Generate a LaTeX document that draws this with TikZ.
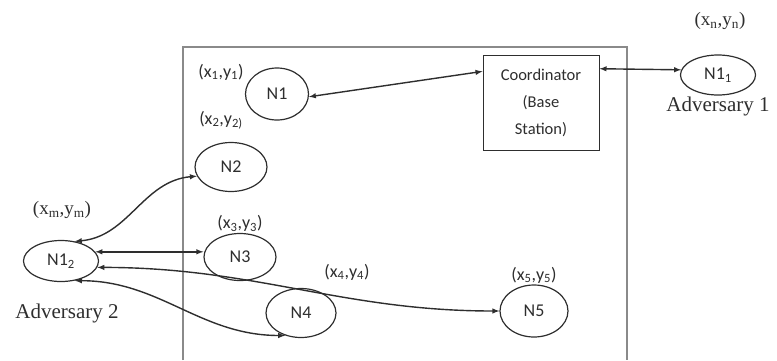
\documentclass[tikz,border=0pt]{standalone}
\usepackage{fontspec}
\setmainfont{Liberation Serif}
\newfontfamily\nodefont{Carlito}
\usepackage{xcolor}
\definecolor{ink}{HTML}{2E2E2E}
\definecolor{frameGray}{HTML}{8A8A8A}
\usetikzlibrary{%
    shapes,
    arrows,
    positioning
}

\begin{document}
\begin{tikzpicture}[x=1pt, y=-1pt, auto,
                sensor/.style={ellipse, draw=ink, line width=1.2pt, minimum width=72pt, minimum height=49pt, inner sep=0pt, text=ink, font=\nodefont\fontsize{18}{18}\selectfont},
                adversary/.style={sensor, minimum width=75pt, minimum height=41pt},
                station/.style={rectangle, draw=ink, line width=1pt, minimum width=116pt, minimum height=95pt, text centered, align=center, text=ink, font=\nodefont\fontsize{16.5}{27}\selectfont},
                poslabel/.style={inner sep=1pt, text=ink, font=\nodefont\fontsize{18}{18}\selectfont},
                advpos/.style={inner sep=1pt, text=ink, font=\fontsize{19}{19}\selectfont},
                advname/.style={inner sep=1pt, text=ink, font=\fontsize{21}{21}\selectfont},
                double_flow/.style={draw=ink, line width=1.4pt, <->, >=latex}
            ]
            \useasboundingbox (0,0) rectangle (777,360);
            % sensor field, open at the bottom
            \draw [frameGray, line width=1.5pt] (183,360) -- (183,47) -- (627,47) -- (627,360);

            \node (n1) at (277,94) [sensor, minimum width=63pt, minimum height=52pt] {N1};
            \node (n2) at (231,167) [sensor] {N2};
            \node (n3) at (240,257) [sensor, minimum height=47pt] {N3};
            \node (n4) at (301,313) [sensor, minimum width=70pt] {N4};
            \node (n5) at (534,311) [sensor, minimum width=68pt, minimum height=52pt] {N5};
            \node (coord) at (541,102.5) [station] {Coordinator \\ (Base \\ Station)};

            \node (adv1) at (718,75) [adversary, minimum height=40pt] {N1\textsubscript{1}};
            \node (adv2) at (61,261) [adversary] {N1\textsubscript{2}};

            \node (n1pos) at (221,72) [poslabel] {(x\textsubscript{1},y\textsubscript{1})};
            \node (n2pos) at (221,120) [poslabel] {(x\textsubscript{2},y\textsubscript{2)}};
            \node (n3pos) [poslabel, above=0pt of n3] {(x\textsubscript{3},y\textsubscript{3})};
            \node (n4pos) at (347,272) [poslabel] {(x\textsubscript{4},y\textsubscript{4})};
            \node (n5pos) [poslabel, above=0pt of n5] {(x\textsubscript{5},y\textsubscript{5})};

            \node (adv1pos) at (720,21) [advpos] {(x\textsubscript{n},y\textsubscript{n})};
            \node (adv1name) [advname, below=0pt of adv1] {Adversary 1};
            \node (adv2pos) at (62,210) [advpos] {(x\textsubscript{m},y\textsubscript{m})};
            \node (adv2name) at (67,313) [advname] {Adversary 2};

            \draw [double_flow] (n1.355) -- (coord.152);
            \draw [double_flow] (coord.30) -- (adv1.172);

            \draw [double_flow] (adv2.55) to[out=5, in=185] (n2.195);
            \draw [double_flow] (adv2.15) -- (adv2.15 -| n3.west);
            \draw [double_flow] (adv2.-10) to[out=0, in=180] (n5.west);
            \draw [double_flow] (adv2.-55) to[out=0, in=180] (n4.235);
        \end{tikzpicture}
\end{document}
